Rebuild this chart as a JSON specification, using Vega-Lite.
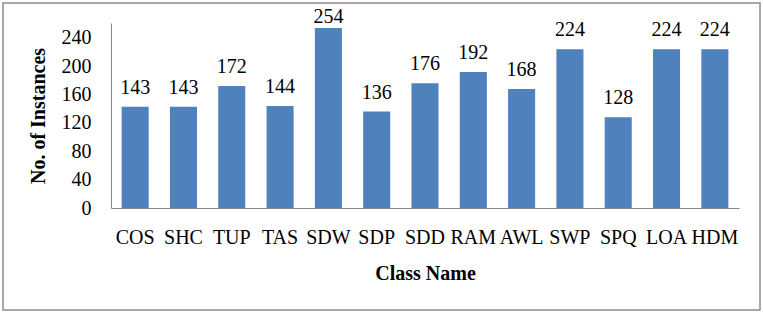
{
  "$schema": "https://vega.github.io/schema/vega-lite/v6.json",
  "width": 757,
  "height": 307,
  "autosize": {"type": "none"},
  "padding": 3,
  "background": "white",
  "config": {
    "view": {"stroke": "#8c8c8c", "strokeWidth": 1.5},
    "font": "Liberation Serif",
    "axis": {"labelFont": "Liberation Serif", "titleFont": "Liberation Serif", "labelColor": "black", "titleColor": "black", "grid": false, "ticks": false, "domainColor": "#898989", "labelFontSize": 20, "titleFontSize": 20, "titleFontWeight": "bold"}
  },
  "data": {
    "values": [
      {"cls": "COS", "n": 143},
      {"cls": "SHC", "n": 143},
      {"cls": "TUP", "n": 172},
      {"cls": "TAS", "n": 144},
      {"cls": "SDW", "n": 254},
      {"cls": "SDP", "n": 136},
      {"cls": "SDD", "n": 176},
      {"cls": "RAM", "n": 192},
      {"cls": "AWL", "n": 168},
      {"cls": "SWP", "n": 224},
      {"cls": "SPQ", "n": 128},
      {"cls": "LOA", "n": 224},
      {"cls": "HDM", "n": 224}
    ]
  },
  "encoding": {
    "x": {"field": "cls", "type": "nominal", "sort": null, "title": "Class Name",
      "scale": {"paddingInner": 0.44, "paddingOuter": 0.22, "range": [108, 736]},
      "axis": {"labelAngle": 0, "labelPadding": 19, "titlePadding": 16, "offset": -102}},
    "y": {"field": "n", "type": "quantitative", "title": "No. of Instances",
      "scale": {"domain": [0, 261], "nice": false, "range": [205, 20]},
      "axis": {"values": [0, 40, 80, 120, 160, 200, 240], "labelPadding": 20, "titlePadding": 13, "offset": -108}}
  },
  "layer": [
    {"mark": {"type": "bar", "color": "#4F81BD"}},
    {"transform": [{"filter": "datum.n < 250"}],
     "mark": {"type": "text", "baseline": "alphabetic", "dy": -13, "fontSize": 20, "font": "Liberation Serif", "color": "black"},
     "encoding": {"text": {"field": "n", "type": "quantitative"}}},
    {"transform": [{"filter": "datum.n >= 250"}],
     "mark": {"type": "text", "baseline": "alphabetic", "dy": -5, "fontSize": 20, "font": "Liberation Serif", "color": "black"},
     "encoding": {"text": {"field": "n", "type": "quantitative"}}}
  ]
}
